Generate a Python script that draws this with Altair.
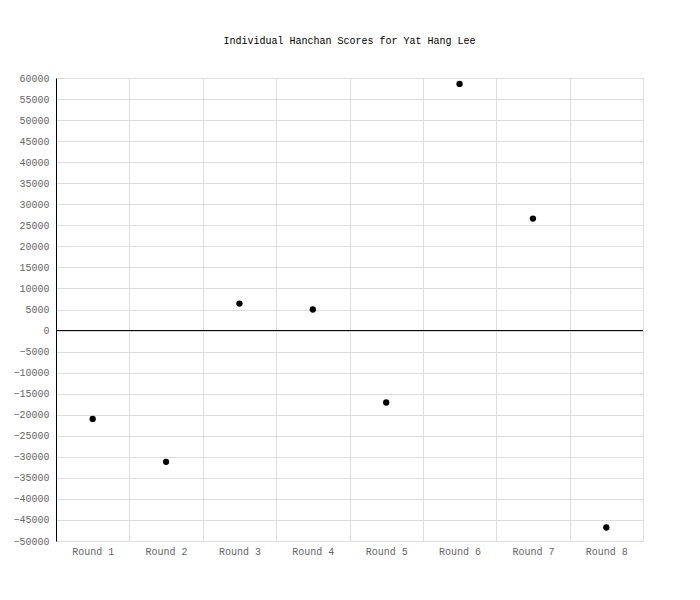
import altair as alt
import pandas as pd

rounds = ["Round 1", "Round 2", "Round 3", "Round 4", "Round 5", "Round 6", "Round 7", "Round 8"]
scores = [-21000, -31200, 6400, 5000, -17100, 58600, 26600, -46800]
y_ticks = list(range(-50000, 60001, 5000))

df = pd.DataFrame({"round": rounds, "score": scores})
FONT = "Liberation Mono"

y_scale = alt.Scale(domain=[-50000, 60000], nice=False, zero=False)

x_enc = alt.X(
    "round:N",
    sort=rounds,
    scale=alt.Scale(paddingInner=0, paddingOuter=0),
    axis=alt.Axis(
        title=None, labelAngle=0, ticks=False, domain=False, grid=True,
        tickBand="extent", gridColor="#dddddd", labelColor="#666666",
        labelFont=FONT, labelFontSize=10, labelPadding=5,
    ),
)
y_axis = alt.Axis(
    title=None, values=y_ticks, tickCount=len(y_ticks), ticks=False, domain=True,
    domainColor="#000000", domainWidth=1, grid=True, gridColor="#dddddd",
    labelColor="#666666", labelFont=FONT, labelFontSize=10, labelPadding=7,
    format="d", labelOverlap=False,
)
y_enc = alt.Y("score:Q", scale=y_scale, axis=y_axis)

points = alt.Chart(df).mark_circle(size=40, color="#000000", opacity=1).encode(x=x_enc, y=y_enc)

zero = alt.Chart(pd.DataFrame({"score": [0]})).mark_rule(color="#000000", strokeWidth=1).encode(
    y=alt.Y("score:Q", scale=y_scale, axis=y_axis)
)

chart = (
    alt.layer(points, zero)
    .properties(
        width=587,
        height=463,
        padding={"left": 4, "top": 28, "right": 5, "bottom": 5},
        title=alt.TitleParams(
            "Individual Hanchan Scores for Yat Hang Lee",
            font=FONT, fontSize=10, fontWeight="normal", color="#000000", offset=27,
        ),
    )
    .configure_view(stroke="#dddddd", strokeWidth=1)
    .configure(background="white")
)

chart.save("out.html", embed_options={"renderer": "svg", "actions": False})
